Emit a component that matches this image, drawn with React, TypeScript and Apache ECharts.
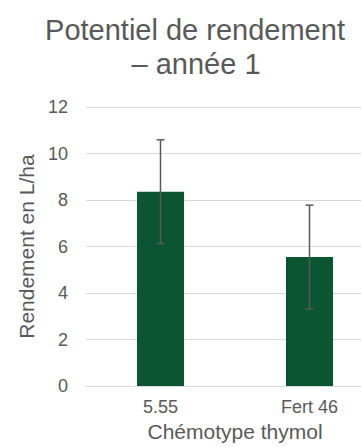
import React, { useEffect, useRef } from "react";
import * as echarts from "echarts";

const categories = ["5.55", "Fert 46"];
const values = [8.36, 5.55];
const errors = [2.23, 2.23];
const yTicks = { min: 0, max: 12, interval: 2 };
const titleLines = ["Potentiel de rendement", "– année 1"];
const yName = "Rendement en L/ha";
const xName = "Chémotype thymol";

const FONT = "'Liberation Sans', Arial, sans-serif";
const TEXT = "#595959";

export default function App() {
  const ref = useRef<HTMLDivElement>(null);
  useEffect(() => {
    if (!ref.current) return;
    const chart = echarts.init(ref.current, undefined, { renderer: "svg" });
    const errData = values.map((v, i) => [i, v - errors[i], v + errors[i]]);
    chart.setOption({
      animation: false,
      textStyle: { fontFamily: FONT },
      graphic: [
        {
          type: "text",
          x: 195,
          y: 30,
          style: {
            text: titleLines[0],
            fill: TEXT,
            font: `29px ${FONT}`,
            textAlign: "center",
            textVerticalAlign: "middle",
          },
        },
        {
          type: "text",
          x: 196,
          y: 64,
          style: {
            text: titleLines[1],
            fill: TEXT,
            font: `29px ${FONT}`,
            textAlign: "center",
            textVerticalAlign: "middle",
          },
        },
      ],
      grid: { left: 86, width: 298, top: 107, bottom: 60 },
      xAxis: {
        type: "category",
        data: categories,
        axisLine: { show: true, lineStyle: { color: "#d9d9d9", width: 1 } },
        axisTick: { show: false },
        axisLabel: { color: TEXT, fontSize: 18, margin: 12, fontFamily: FONT },
        name: xName,
        nameLocation: "middle",
        nameGap: 34,
        nameTextStyle: { color: TEXT, fontSize: 21, fontFamily: FONT },
      },
      yAxis: {
        type: "value",
        min: yTicks.min,
        max: yTicks.max,
        interval: yTicks.interval,
        axisLine: { show: false },
        axisTick: { show: false },
        splitLine: { lineStyle: { color: "#d9d9d9", width: 1 } },
        axisLabel: { color: TEXT, fontSize: 18, margin: 18, fontFamily: FONT },
        name: yName,
        nameLocation: "middle",
        nameGap: 47,
        nameTextStyle: { color: TEXT, fontSize: 21, fontFamily: FONT },
      },
      series: [
        {
          type: "bar",
          data: values,
          barWidth: 47,
          itemStyle: { color: "#0b5532" },
        },
        {
          type: "custom",
          data: errData,
          z: 10,
          renderItem: (params: any, api: any) => {
            const x = api.value(0);
            const lo = api.coord([x, api.value(1)]);
            const hi = api.coord([x, api.value(2)]);
            const cap = 4;
            const style = { stroke: "#595959", lineWidth: 1.5, fill: "none" };
            return {
              type: "group",
              children: [
                { type: "line", shape: { x1: hi[0], y1: hi[1], x2: lo[0], y2: lo[1] }, style },
                { type: "line", shape: { x1: hi[0] - cap, y1: hi[1], x2: hi[0] + cap, y2: hi[1] }, style },
                { type: "line", shape: { x1: lo[0] - cap, y1: lo[1], x2: lo[0] + cap, y2: lo[1] }, style },
              ],
            };
          },
        },
      ],
    });
    return () => chart.dispose();
  }, []);
  return (
    <div style={{ position: "absolute", left: 0, top: 0, width: 361, height: 447, overflow: "hidden" }}>
      <div ref={ref} style={{ width: 390, height: 447 }} />
    </div>
  );
}
